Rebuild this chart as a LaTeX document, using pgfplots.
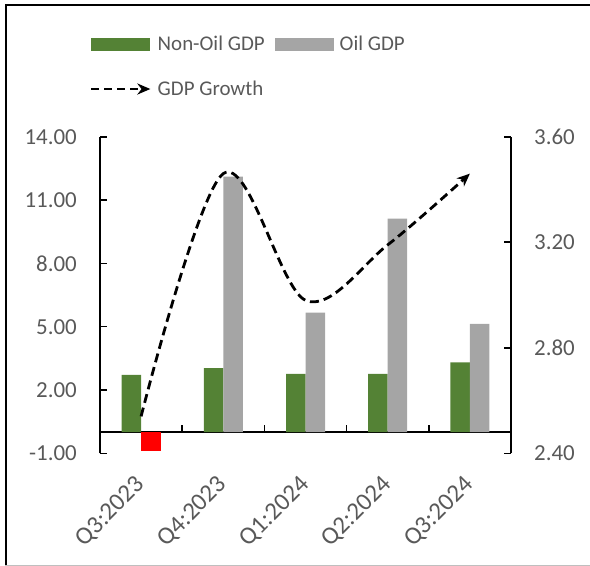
\documentclass[border=0pt]{standalone}
\usepackage{pgfplots}
\pgfplotsset{compat=1.18}
\usepackage{fontspec}
\setmainfont{Carlito}
\usetikzlibrary{arrows.meta}
\definecolor{nonoil}{HTML}{548235}
\definecolor{oil}{HTML}{A5A5A5}
\definecolor{neg}{HTML}{FF0000}
\definecolor{lblgray}{HTML}{595959}
\begin{document}
\begin{tikzpicture}
\useasboundingbox (0bp,0bp) rectangle (590bp,-566bp);
\draw[line width=2bp, black] (5.5bp,-566bp) -- (5.5bp,-5bp) -- (590bp,-5bp);
\draw[line width=1.2bp, black!25] (5bp,-565.2bp) -- (590bp,-565.2bp);
\begin{axis}[
  at={(100bp,-453.3bp)}, anchor=south west,
  scale only axis, width=411bp, height=316.6bp,
  xmin=-0.5, xmax=4.5, ymin=-1, ymax=14,
  axis y line*=left, axis x line*=middle,
  axis line style={line width=2bp, black},
  tick style={line width=1.6bp, black},
  tick align=inside,
  major tick length=7bp,
  ytick={-1,2,5,8,11,14},
  xtick={0.5,1.5,2.5,3.5}, xticklabels={,,,},
  yticklabel style={/pgf/number format/fixed, /pgf/number format/fixed zerofill, /pgf/number format/precision=2, /pgf/number format/assume math mode=true},
  yticklabel style={font=\fontsize{23}{27}\selectfont, text=lblgray, inner sep=0pt, xshift=-23bp},
  legend columns=2,
  legend style={draw=none, fill=none, inner sep=0pt, at={(-0.025,1.325)}, anchor=north west,
    font=\fontsize{21}{25}\selectfont, text=lblgray, row sep=25bp,
    /tikz/every even column/.append style={column sep=8bp},
    /tikz/every odd column/.append style={column sep=4bp}},
  legend cell align=left,
]
\addplot[ybar, bar width=19.5bp, bar shift=-9.75bp, fill=nonoil, draw=none,
  legend image code/.code={\fill[nonoil] (0bp,-6.5bp) rectangle (59bp,6.5bp);}]
  coordinates {(0,2.72) (1,3.03) (2,2.76) (3,2.76) (4,3.31)};
\addlegendentry{Non-Oil GDP}
\addplot[ybar, bar width=19.5bp, bar shift=9.75bp, fill=oil, draw=none,
  legend image code/.code={\fill[oil] (0bp,-6.5bp) rectangle (59bp,6.5bp);}]
  coordinates {(1,12.11) (2,5.66) (3,10.12) (4,5.13)};
\addlegendentry{Oil GDP}
\addplot[ybar, bar width=19.5bp, bar shift=9.75bp, fill=neg, draw=none, forget plot]
  coordinates {(0,-0.87)};
\addlegendimage{legend image code/.code={\draw[black, line width=2.8bp, dash pattern=on 8bp off 5bp, -{Stealth[length=13bp,width=11bp]}] (0bp,0bp) -- (59bp,0bp);}}
\addlegendentry{GDP Growth}
\pgfplotsinvokeforeach{-1,2,5,8,11,14}{\draw[line width=1.6bp, black] (axis cs:-0.5,#1) -- ++(7bp,0bp);}
\pgfplotsinvokeforeach{0.5,1.5,2.5,3.5}{\draw[line width=1.6bp, black] (axis cs:#1,0) -- ++(0bp,7bp);}
\end{axis}
\begin{axis}[
  at={(100bp,-453.3bp)}, anchor=south west,
  scale only axis, width=411bp, height=316.6bp,
  xmin=-0.5, xmax=4.5, ymin=2.4, ymax=3.6,
  axis y line*=right, axis x line*=bottom,
  y axis line style={line width=2bp, black},
  x axis line style={draw=none},
  ytick style={line width=1.6bp, black},
  xtick style={draw=none},
  tick align=inside,
  major tick length=7bp,
  ytick={2.4,2.8,3.2,3.6},
  xtick={0,1,2,3,4},
  xticklabels={Q3:2023,Q4:2023,Q1:2024,Q2:2024,Q3:2024},
  yticklabel style={/pgf/number format/fixed, /pgf/number format/fixed zerofill, /pgf/number format/precision=2, /pgf/number format/assume math mode=true},
  yticklabel style={font=\fontsize{23}{27}\selectfont, text=lblgray, inner sep=0pt, xshift=23bp},
  xticklabel style={font=\fontsize{25}{29}\selectfont, text=lblgray, inner sep=0pt,
    xshift=0bp, yshift=-28bp, rotate=45, anchor=east},
]
\addplot[black, line width=2.8bp, dash pattern=on 9bp off 5bp, smooth, tension=0.55,
  -{Stealth[length=13bp,width=11bp]}]
  coordinates {(0,2.54) (1,3.46) (2,2.98) (3,3.19) (4,3.46)};
\pgfplotsinvokeforeach{2.4,2.8,3.2,3.6}{\draw[line width=1.6bp, black] (axis cs:4.5,#1) -- ++(-7bp,0bp);}
\end{axis}
\end{tikzpicture}
\end{document}
